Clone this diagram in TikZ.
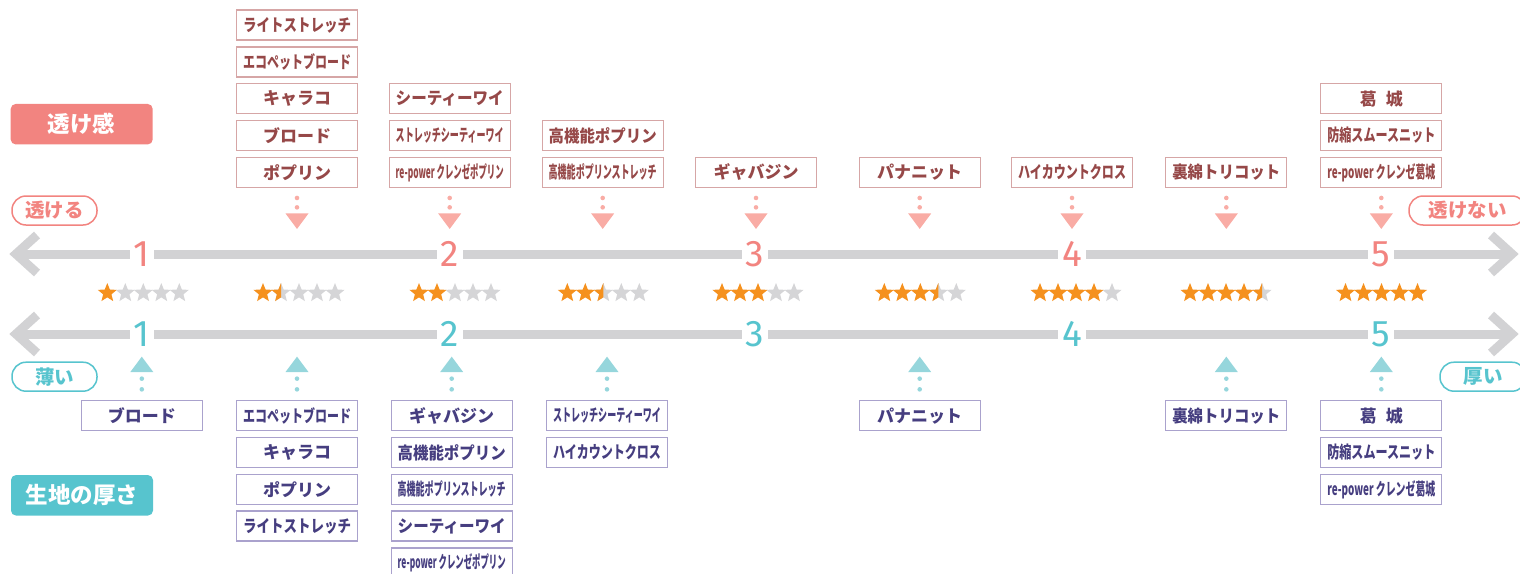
\documentclass[tikz,border=0pt]{standalone}
\usepackage{graphicx}
\usepackage{fontspec}
\setmainfont{Noto Sans CJK JP}
\newfontfamily\numfont{Fira Sans}
\usetikzlibrary{shapes.geometric,positioning,calc}
\definecolor{tsalmon}{RGB}{242,132,128}
\definecolor{tpink}{RGB}{249,172,165}
\definecolor{tedge}{RGB}{214,166,166}
\definecolor{ttext}{RGB}{150,72,72}
\definecolor{bteal}{RGB}{87,196,206}
\definecolor{blight}{RGB}{150,214,220}
\definecolor{bedge}{RGB}{170,162,205}
\definecolor{btext}{RGB}{70,62,128}
\definecolor{axisgray}{RGB}{210,210,212}
\definecolor{staror}{RGB}{245,145,30}
\definecolor{stargray}{RGB}{213,213,215}

% squeeze long names into the box
\newsavebox\fitbox
\newcommand\fitw[1]{\sbox\fitbox{#1}%
  \ifdim\wd\fitbox>108pt\resizebox{108pt}{\ht\fitbox}{\usebox\fitbox}\else\usebox\fitbox\fi}

% five stars, #1 name, #2 x, #3 rating
\newcommand\ratingrow[3]{%
  \foreach \k in {1,...,5}{
    \pgfmathsetmacro\sx{#2+(\k-3)*18}
    \pgfmathtruncatemacro\sstate{(\k<=#3) ? 2 : ((\k-0.5<=#3) ? 1 : 0)}
    \ifcase\sstate
      \node[starmark,fill=stargray] (#1-\k) at (\sx,293) {};
    \or
      \node[starmark,fill=stargray] (#1-\k) at (\sx,293) {};
      \begin{scope}
        \clip (\sx-11,280) rectangle (\sx,306);
        \node[starmark,fill=staror] (#1-\k h) at (\sx,293) {};
      \end{scope}
    \or
      \node[starmark,fill=staror] (#1-\k) at (\sx,293) {};
    \fi
  }}

% pointers below / above a box
\newcommand\downptr[1]{%
  \draw[tdots] ([yshift=-10pt]#1.south) -- ([yshift=-21pt]#1.south);
  \fill[tpink] ([xshift=-11.5pt,yshift=-25.5pt]#1.south) -- ([xshift=11.5pt,yshift=-25.5pt]#1.south)
    -- ([yshift=-41pt]#1.south) -- cycle;}
\newcommand\upptr[1]{%
  \draw[bdots] ([yshift=10.7pt]#1.north) -- ([yshift=22pt]#1.north);
  \fill[blight] ([xshift=-11.5pt,yshift=28pt]#1.north) -- ([xshift=11.5pt,yshift=28pt]#1.north)
    -- ([yshift=43.4pt]#1.north) -- cycle;}

\tikzset{
  tbox/.style={draw=tedge, line width=1.3pt, fill=white, minimum width=121pt, minimum height=30pt,
    inner sep=0pt, text=ttext, font=\bfseries\fontsize{17}{18}\selectfont},
  bbox/.style={tbox, draw=bedge, text=btext},
  tlabel/.style={fill=tsalmon, rounded corners=5pt, text=white, minimum width=142pt,
    minimum height=40.5pt, inner sep=0pt, font=\bfseries\fontsize{22.5}{24}\selectfont},
  blabel/.style={tlabel, fill=bteal},
  tpill/.style={draw=tsalmon, line width=1.5pt, fill=white, rounded corners=14pt, text=tsalmon,
    minimum height=29pt, inner sep=0pt, font=\bfseries\fontsize{19.5}{20}\selectfont},
  bpill/.style={tpill, draw=bteal, text=bteal},
  axisline/.style={draw=axisgray, line width=9pt, line join=miter},
  unum/.style={fill=white, inner xsep=4pt, inner ysep=1pt, text=tsalmon,
    font=\numfont\fontsize{37}{37}\selectfont},
  lnum/.style={unum, text=bteal},
  starmark/.style={star, star points=5, star point ratio=2.3, minimum size=20pt, inner sep=0pt, outer sep=0pt},
  tdots/.style={draw=tpink, line width=4.6pt, line cap=round, dash pattern=on 0pt off 9.4pt},
  bdots/.style={tdots, draw=blight, dash pattern=on 0pt off 10.7pt},
}

\begin{document}
\begin{tikzpicture}[x=1pt, y=-1pt, node distance=5.5pt]
  \useasboundingbox (0,0) rectangle (1520,573);

  % side labels
  \node[tlabel] (tkan) at (81.7,124.2) {透け感};
  \node[blabel] (atsu) at (82,495.3) {生地の厚さ};
  \node[tpill, minimum width=85pt] (sukeru) at (54.5,210.5) {透ける};
  \node[tpill, minimum width=117pt] (sukenai) at (1467.5,210.5) {透けない};
  \node[bpill, minimum width=85pt] (usui) at (54.5,376.7) {薄い};
  \node[bpill, minimum width=86pt] (atsui) at (1483,376.7) {厚い};

  % axes
  \coordinate (ual) at (16,254);
  \coordinate (uar) at (1512,254);
  \coordinate (lal) at (16,334);
  \coordinate (lar) at (1512,334);
  \draw[axisline] (ual) -- (uar);
  \draw[axisline] ([shift={(21pt,19pt)}]ual) -- (ual) -- ([shift={(21pt,-19pt)}]ual);
  \draw[axisline] ([shift={(-21pt,19pt)}]uar) -- (uar) -- ([shift={(-21pt,-19pt)}]uar);
  \draw[axisline] (lal) -- (lar);
  \draw[axisline] ([shift={(21pt,19pt)}]lal) -- (lal) -- ([shift={(21pt,-19pt)}]lal);
  \draw[axisline] ([shift={(-21pt,19pt)}]lar) -- (lar) -- ([shift={(-21pt,-19pt)}]lar);

  \node[unum] (u1) at (142,254) {1};
  \node[unum] (u2) at (450,254) {2};
  \node[unum] (u3) at (755,254) {3};
  \node[unum] (u4) at (1072,254) {4};
  \node[unum] (u5) at (1381,254) {5};
  \node[lnum] (l1) at (142,334) {1};
  \node[lnum] (l2) at (450,334) {2};
  \node[lnum] (l3) at (755,334) {3};
  \node[lnum] (l4) at (1072,334) {4};
  \node[lnum] (l5) at (1381,334) {5};

  % stars
  \ratingrow{r10}{143.3}{1}
  \ratingrow{r15}{299}{1.5}
  \ratingrow{r20}{455}{2}
  \ratingrow{r25}{603.3}{2.5}
  \ratingrow{r30}{758}{3}
  \ratingrow{r35}{920.3}{3.5}
  \ratingrow{r40}{1076}{4}
  \ratingrow{r45}{1226}{4.5}
  \ratingrow{r50}{1381.5}{5}

  % transparency (top)
  \node[tbox] (tpop) at (297,172.3) {ポプリン};
  \node[tbox, above=of tpop] (tbro) {ブロード};
  \node[tbox, above=of tbro] (tcal) {キャラコ};
  \node[tbox, above=of tcal] (teco) {\fitw{エコペットブロード}};
  \node[tbox, above=of teco] (tlit) {\fitw{ライトストレッチ}};
  \node[tbox] (trep) at (449.7,172.3) {\fitw{re-power クレンゼポプリン}};
  \node[tbox, above=of trep] (tstc) {\fitw{ストレッチシーティーワイ}};
  \node[tbox, above=of tstc] (tcty) {\fitw{シーティーワイ}};
  \node[tbox] (thps) at (602.7,172.3) {\fitw{高機能ポプリンストレッチ}};
  \node[tbox, above=of thps] (thp) {\fitw{高機能ポプリン}};
  \node[tbox] (tgab) at (756,172.3) {ギャバジン};
  \node[tbox] (tpan) at (919.7,172.3) {パナニット};
  \node[tbox] (thic) at (1072,172.3) {\fitw{ハイカウントクロス}};
  \node[tbox] (ttri) at (1226.3,172.3) {\fitw{裏綿トリコット}};
  \node[tbox] (trek) at (1381.3,172.3) {\fitw{re-power クレンゼ葛城}};
  \node[tbox, above=of trek] (tbsn) {\fitw{防縮スムースニット}};
  \node[tbox, above=of tbsn] (tkat) {葛\hspace{9pt}城};

  \downptr{tpop}
  \downptr{trep}
  \downptr{thps}
  \downptr{tgab}
  \downptr{tpan}
  \downptr{thic}
  \downptr{ttri}
  \downptr{trek}

  % thickness (bottom)
  \node[bbox] (bbro) at (141.8,415.7) {ブロード};
  \node[bbox] (beco) at (297,415.7) {\fitw{エコペットブロード}};
  \node[bbox, below=of beco] (bcal) {キャラコ};
  \node[bbox, below=of bcal] (bpop) {ポプリン};
  \node[bbox, below=of bpop] (blit) {\fitw{ライトストレッチ}};
  \node[bbox] (bgab) at (451.7,415.7) {ギャバジン};
  \node[bbox, below=of bgab] (bhp) {\fitw{高機能ポプリン}};
  \node[bbox, below=of bhp] (bhps) {\fitw{高機能ポプリンストレッチ}};
  \node[bbox, below=of bhps] (bcty) {\fitw{シーティーワイ}};
  \node[bbox, below=of bcty] (brep) {\fitw{re-power クレンゼポプリン}};
  \node[bbox] (bstc) at (607,415.7) {\fitw{ストレッチシーティーワイ}};
  \node[bbox, below=of bstc] (bhic) {\fitw{ハイカウントクロス}};
  \node[bbox] (bpan) at (919.7,415.7) {パナニット};
  \node[bbox] (btri) at (1226.3,415.7) {\fitw{裏綿トリコット}};
  \node[bbox] (bkat) at (1381.3,415.7) {葛\hspace{9pt}城};
  \node[bbox, below=of bkat] (bbsn) {\fitw{防縮スムースニット}};
  \node[bbox, below=of bbsn] (brek) {\fitw{re-power クレンゼ葛城}};

  \upptr{bbro}
  \upptr{beco}
  \upptr{bgab}
  \upptr{bstc}
  \upptr{bpan}
  \upptr{btri}
  \upptr{bkat}
\end{tikzpicture}
\end{document}
